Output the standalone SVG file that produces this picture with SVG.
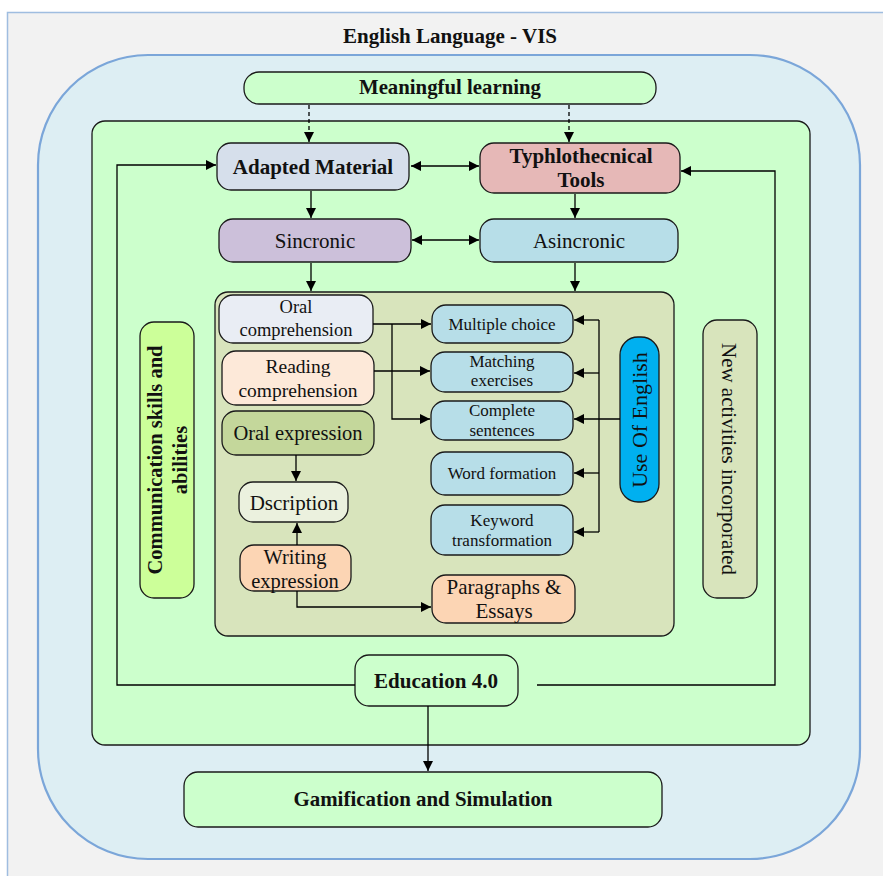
<svg xmlns="http://www.w3.org/2000/svg" width="883" height="876" viewBox="0 0 883 876">
<defs>
<marker id="ah" viewBox="0 0 10 10" refX="10" refY="5" markerWidth="11" markerHeight="10" markerUnits="userSpaceOnUse" orient="auto-start-reverse">
<path d="M0,0 L10,5 L0,10 Z" fill="#000"/>
</marker>
<style>
.bx{stroke:#1a1a1a;stroke-width:1.3}
.t{font-family:"Liberation Serif","Times New Roman",serif;fill:#111;text-anchor:middle}
.b{font-weight:bold}
.c{fill:none;stroke:#000;stroke-width:1.3}
.ar{marker-end:url(#ah)}
.da{marker-start:url(#ah);marker-end:url(#ah)}
</style>
</defs>
<rect x="0" y="0" width="883" height="876" fill="#ffffff"/>
<rect x="7.5" y="12.5" width="900" height="900" fill="#f2f2f2" stroke="#9fbde0" stroke-width="1.5"/>
<rect x="38" y="55" width="822" height="804" rx="110" ry="110" fill="#ddeef3" stroke="#7ba6d9" stroke-width="2.2"/>
<text class="t b" x="450" y="43" font-size="22" textLength="214" lengthAdjust="spacingAndGlyphs">English Language - VIS</text>

<g id="frame-green"><rect class="bx" x="92" y="121" width="718" height="624" rx="13" fill="#ccffcc"/></g>
<g id="container"><rect class="bx" x="215" y="292" width="459" height="344" rx="13" fill="#d8e4bc"/></g>

<g id="meaningful"><rect class="bx" x="244" y="72" width="412" height="32" rx="15" fill="#ccffcc"/><text class="t b" x="450" y="94" font-size="22" textLength="182" lengthAdjust="spacingAndGlyphs">Meaningful learning</text></g>
<g id="adapted"><rect class="bx" x="217" y="143" width="192" height="47" rx="14" fill="#d6dfeb"/><text class="t b" x="313" y="174" font-size="21">Adapted Material</text></g>
<g id="typhlo"><rect class="bx" x="480" y="143" width="200" height="50" rx="14" fill="#e6b8b7"/><text class="t b" x="581" y="163" font-size="21">Typhlothecnical</text><text class="t b" x="581" y="187" font-size="21">Tools</text></g>
<g id="sincronic"><rect class="bx" x="219" y="219" width="192" height="43" rx="14" fill="#ccc0da"/><text class="t" x="315" y="248" font-size="21">Sincronic</text></g>
<g id="asincronic"><rect class="bx" x="480" y="219" width="198" height="43" rx="14" fill="#b7dee8"/><text class="t" x="579" y="248" font-size="21">Asincronic</text></g>

<g id="oral-comp"><rect class="bx" x="219" y="295" width="154" height="48" rx="14" fill="#e9edf4"/><text class="t" x="296" y="313" font-size="18.5">Oral</text><text class="t" x="296" y="336" font-size="18.5">comprehension</text></g>
<g id="reading-comp"><rect class="bx" x="222" y="351" width="152" height="54" rx="14" fill="#fde9d9"/><text class="t" x="298" y="373" font-size="19.5">Reading</text><text class="t" x="298" y="397" font-size="19.5">comprehension</text></g>
<g id="oral-exp"><rect class="bx" x="222" y="411" width="152" height="44" rx="14" fill="#c4d79b"/><text class="t" x="298" y="440" font-size="20.5">Oral expression</text></g>
<g id="dscription"><rect class="bx" x="239" y="482" width="109" height="40" rx="14" fill="#ebf1de"/><text class="t" x="294" y="510" font-size="21">Dscription</text></g>
<g id="writing"><rect class="bx" x="240" y="545" width="111" height="46" rx="14" fill="#fcd5b4"/><text class="t" x="295" y="564" font-size="20.5">Writing</text><text class="t" x="295" y="588" font-size="20.5">expression</text></g>
<g id="paragraphs"><rect class="bx" x="432" y="575" width="143" height="48" rx="14" fill="#fcd5b4"/><text class="t" x="504" y="594" font-size="21">Paragraphs &amp;</text><text class="t" x="504" y="618" font-size="21">Essays</text></g>

<g id="multiple"><rect class="bx" x="432" y="305" width="141" height="38" rx="14" fill="#b7dee8"/><text class="t" x="502" y="330" font-size="17">Multiple choice</text></g>
<g id="matching"><rect class="bx" x="431" y="352" width="142" height="40" rx="14" fill="#b7dee8"/><text class="t" x="502" y="367" font-size="17">Matching</text><text class="t" x="502" y="386" font-size="17">exercises</text></g>
<g id="complete"><rect class="bx" x="431" y="401" width="142" height="39" rx="14" fill="#b7dee8"/><text class="t" x="502" y="416" font-size="17">Complete</text><text class="t" x="502" y="436" font-size="17">sentences</text></g>
<g id="word"><rect class="bx" x="431" y="452" width="142" height="43" rx="14" fill="#b7dee8"/><text class="t" x="502" y="479" font-size="17">Word formation</text></g>
<g id="keyword"><rect class="bx" x="431" y="505" width="142" height="50" rx="14" fill="#b7dee8"/><text class="t" x="502" y="526" font-size="17">Keyword</text><text class="t" x="502" y="546" font-size="17">transformation</text></g>
<g id="use-english"><rect class="bx" x="620" y="337" width="39" height="165" rx="18" fill="#00b0f0"/><text class="t" transform="translate(647,420) rotate(-90)" font-size="22">Use Of English</text></g>

<g id="communication"><rect class="bx" x="140" y="322" width="54" height="276" rx="14" fill="#ccff99"/><text class="t b" transform="translate(162,460) rotate(-90)" font-size="20.5">Communication skills and</text><text class="t b" transform="translate(187,460) rotate(-90)" font-size="20.5">abilities</text></g>
<g id="new-activities"><rect class="bx" x="703" y="320" width="54" height="278" rx="14" fill="#d8e4bc"/><text class="t" transform="translate(722,459) rotate(90)" font-size="21">New activities incorporated</text></g>

<g id="education"><rect class="bx" x="355" y="655" width="163" height="51" rx="14" fill="#ccffcc"/><text class="t b" x="436" y="688" font-size="22" textLength="124" lengthAdjust="spacingAndGlyphs">Education 4.0</text></g>
<g id="gamification"><rect class="bx" x="184" y="772" width="478" height="55" rx="14" fill="#ccffcc"/><text class="t b" x="423" y="806" font-size="22" textLength="259" lengthAdjust="spacingAndGlyphs">Gamification and Simulation</text></g>

<g id="connectors">
<path class="c ar" d="M309,105 V142" stroke-dasharray="4,3"/>
<path class="c ar" d="M569,105 V142" stroke-dasharray="4,3"/>
<path class="c da" d="M411,166 H479"/>
<path class="c ar" d="M311,191 V218"/>
<path class="c ar" d="M575,194 V218"/>
<path class="c da" d="M412,240 H479"/>
<path class="c ar" d="M311,263 V291"/>
<path class="c ar" d="M575,263 V291"/>
<path class="c ar" d="M355,685 H117 V165 H216"/>
<path class="c ar" d="M537,685 H775 V171 H681"/>
<path class="c ar" d="M428,706 V771"/>
<path class="c ar" d="M373,324 H431"/>
<path class="c ar" d="M392,324 V419 H430"/>
<path class="c ar" d="M374,371 H430"/>
<path class="c ar" d="M620,419 H574"/>
<path class="c" d="M599,320 V532"/>
<path class="c ar" d="M599,320 H574"/>
<path class="c ar" d="M599,373 H574"/>
<path class="c ar" d="M599,473 H574"/>
<path class="c ar" d="M599,532 H574"/>
<path class="c ar" d="M296,455 V481"/>
<path class="c ar" d="M297,545 V523"/>
<path class="c ar" d="M297,591 V607 H431"/>
</g>
</svg>
